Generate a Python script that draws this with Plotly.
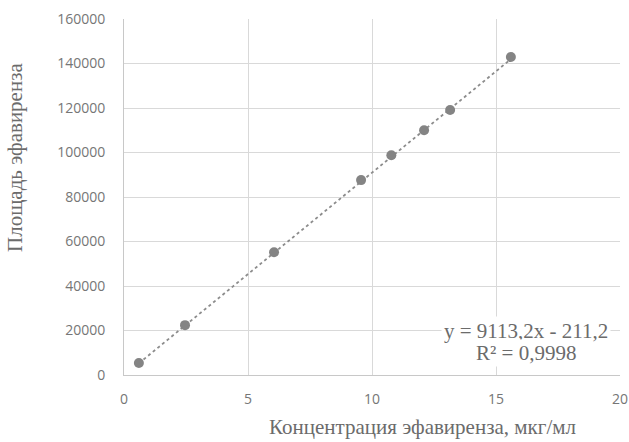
import plotly.graph_objects as go

conc = [0.6, 2.46, 6.05, 9.56, 10.78, 12.1, 13.15, 15.6]
area = [5400, 22400, 55200, 87600, 98800, 110000, 119100, 142900]
slope = 9113.2
intercept = -211.2
eq_line1 = "y = 9113,2x - 211,2"
eq_line2 = "R² = 0,9998"
x_ticks = [0, 5, 10, 15, 20]
y_ticks = [0, 20000, 40000, 60000, 80000, 100000, 120000, 140000, 160000]

trend_x = [min(conc), max(conc)]
trend_y = [slope * v + intercept for v in trend_x]

fig = go.Figure()
fig.add_trace(go.Scatter(x=trend_x, y=trend_y, mode="lines",
                         line=dict(color="#8c8c8c", width=1.8, dash="dot"),
                         showlegend=False, hoverinfo="skip"))
fig.add_trace(go.Scatter(x=conc, y=area, mode="markers",
                         marker=dict(color="#848484", size=10),
                         showlegend=False))

tick_font = dict(family="Open Sans, Liberation Sans, sans-serif", size=14, color="#767676")
serif = "Liberation Serif, Times New Roman, serif"
title_font = dict(family=serif, size=21, color="#6b6b6b")

L, R, T, B = 124, 9, 19, 67
W, H = 629 - L - R, 442 - T - B

def px(xp):
    return (xp - L) / W

def py(yp):
    return (442 - B - yp) / H

fig.update_layout(
    width=629, height=442,
    margin=dict(l=L, r=R, t=T, b=B),
    plot_bgcolor="white", paper_bgcolor="white",
    xaxis=dict(range=[0, 20], tickvals=x_ticks, ticktext=[str(v) for v in x_ticks],
               showgrid=True, gridcolor="#d9d9d9", automargin=False,
               ticklabeloverflow="allow",
               gridwidth=1, zeroline=False, showline=True, linecolor="#c8c8c8",
               tickfont=tick_font, ticks="", ticklabelstandoff=11),
    yaxis=dict(range=[0, 160000], tickvals=y_ticks, ticktext=[str(v) for v in y_ticks],
               showgrid=True, gridcolor="#d9d9d9", automargin=False,
               ticklabeloverflow="allow",
               gridwidth=1, zeroline=False, showline=True, linecolor="#c8c8c8",
               tickfont=tick_font, ticks="", ticklabelstandoff=15),
    annotations=[
        dict(text="Концентрация эфавиренза, мкг/мл", xref="paper", yref="paper",
             x=px(422), y=py(427), xanchor="center", yanchor="middle",
             showarrow=False, font=title_font),
        dict(text="Площадь эфавиренза", xref="paper", yref="paper",
             x=px(15), y=py(158), xanchor="center", yanchor="middle",
             textangle=-90, showarrow=False, font=title_font),
        dict(text=eq_line1, xref="paper", yref="paper",
             x=px(526), y=py(331), xanchor="center", yanchor="middle",
             showarrow=False, bgcolor="white", borderpad=2,
             font=dict(family=serif, size=21, color="#6b6b6b")),
        dict(text=eq_line2, xref="paper", yref="paper",
             x=px(526), y=py(353), xanchor="center", yanchor="middle",
             showarrow=False, bgcolor="white", borderpad=1,
             font=dict(family=serif, size=21, color="#6b6b6b")),
    ],
)
fig.write_html("out.html", config={"displayModeBar": False},
               post_script="document.body.style.margin='0';document.body.style.overflow='hidden';")
